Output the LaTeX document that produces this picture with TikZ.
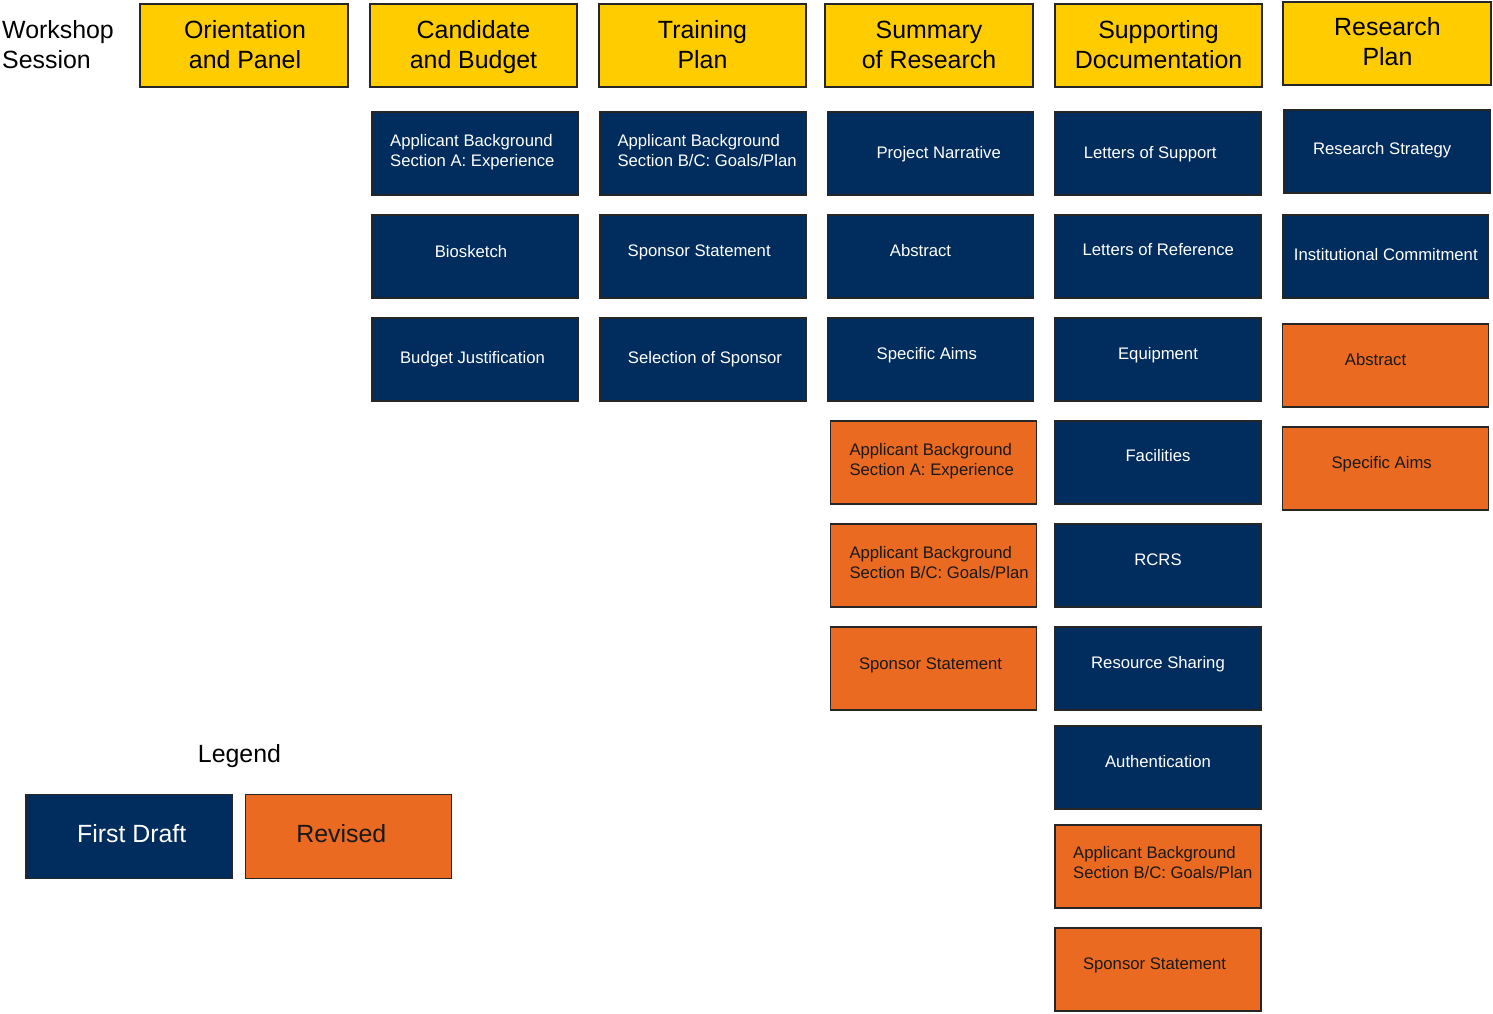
\documentclass[tikz,border=0pt]{standalone}
\usepackage{fontspec}
\setmainfont{Liberation Sans}
\definecolor{navy}{HTML}{012D5E}
\definecolor{orng}{HTML}{EA6A22}
\definecolor{yell}{HTML}{FFCC00}
\begin{document}
\begin{tikzpicture}[x=1pt,y=-1pt,
  basebox/.style={draw=black!85, line width=1.5pt, minimum width=206pt, minimum height=83pt, inner sep=0pt},
  hdr/.style={basebox, fill=yell, minimum width=208pt},
  draft/.style={basebox, fill=navy},
  revised/.style={basebox, fill=orng},
  smalltxt/.style={font=\fontsize{16.7}{20}\selectfont, inner sep=0pt, anchor=base},
  bigtxt/.style={font=\fontsize{24.9}{30}\selectfont, inner sep=0pt, anchor=base},
  wt/.style={smalltxt, text=white},
  bt/.style={smalltxt, text=black!90},
  wt2/.style={wt, anchor=base west, align=left},
  bt2/.style={bt, anchor=base west, align=left},
  ht/.style={bigtxt, align=center, text=black},
]
\useasboundingbox (0,0) rectangle (1493,1013);

% header row (base anchor = baseline of the last line)
\node[bigtxt, anchor=base west, align=left] (ws) at (2,68.5) {Workshop\\Session};
\node[hdr] (h1) at (244,45.5) {};
\node[ht] (h1t) at (245,68.5) {Orientation\\and Panel};
\node[hdr, minimum width=207pt] (h2) at (473.5,45.5) {};
\node[ht] (h2t) at (473.5,68.5) {Candidate\\and Budget};
\node[hdr, minimum width=207pt] (h3) at (702.5,45.5) {};
\node[ht] (h3t) at (702.5,68.5) {Training\\Plan};
\node[hdr] (h4) at (929,45.5) {};
\node[ht] (h4t) at (929,68.5) {Summary\\of Research};
\node[hdr, minimum width=207pt] (h5) at (1158.5,45.5) {};
\node[ht] (h5t) at (1158.5,68.5) {Supporting\\Documentation};
\node[hdr] (h6) at (1387,43.5) {};
\node[ht] (h6t) at (1387.5,65.5) {Research\\Plan};

% column: Candidate and Budget
\node[draft] (c2a) at (475,153.5) {};
\node[wt2] at (390,166.5) {Applicant Background\\Section A: Experience};
\node[draft] (c2b) at (475,256.5) {};
\node[wt] at (471,257.3) {Biosketch};
\node[draft] (c2c) at (475,359.5) {};
\node[wt] at (472.5,363) {Budget Justification};

% column: Training Plan
\node[draft] (c3a) at (703,153.5) {};
\node[wt2] at (617.3,166.5) {Applicant Background\\Section B/C: Goals/Plan};
\node[draft] (c3b) at (703,256.5) {};
\node[wt] at (699.2,256.6) {Sponsor Statement};
\node[draft] (c3c) at (703,359.5) {};
\node[wt] at (705,363) {Selection of Sponsor};

% column: Summary of Research
\node[draft] (c4a) at (930.5,153.5) {};
\node[wt] at (938.7,158.2) {Project Narrative};
\node[draft] (c4b) at (930.5,256.5) {};
\node[wt] at (920.5,256.9) {Abstract};
\node[draft] (c4c) at (930.5,359.5) {};
\node[wt] at (926.8,359.9) {Specific Aims};
\node[revised] (c4d) at (933.5,462.5) {};
\node[bt2] at (849.3,475.5) {Applicant Background\\Section A: Experience};
\node[revised] (c4e) at (933.5,565.5) {};
\node[bt2] at (849.3,578.5) {Applicant Background\\Section B/C: Goals/Plan};
\node[revised] (c4f) at (933.5,668.5) {};
\node[bt] at (930.5,669.3) {Sponsor Statement};

% column: Supporting Documentation
\node[draft] (c5a) at (1158,153.5) {};
\node[wt] at (1150.2,158.4) {Letters of Support};
\node[draft] (c5b) at (1158,256.5) {};
\node[wt] at (1158.3,255.8) {Letters of Reference};
\node[draft] (c5c) at (1158,359.5) {};
\node[wt] at (1158,359.2) {Equipment};
\node[draft] (c5d) at (1158,462.5) {};
\node[wt] at (1158,461.8) {Facilities};
\node[draft] (c5e) at (1158,565.5) {};
\node[wt] at (1158,565.5) {RCRS};
\node[draft] (c5f) at (1158,668.5) {};
\node[wt] at (1158,668.5) {Resource Sharing};
\node[draft] (c5g) at (1158,767.5) {};
\node[wt] at (1158,767.8) {Authentication};
\node[revised] (c5h) at (1158,866.5) {};
\node[bt2] at (1073,878.7) {Applicant Background\\Section B/C: Goals/Plan};
\node[revised] (c5i) at (1158,969.5) {};
\node[bt] at (1154.5,969.5) {Sponsor Statement};

% column: Research Plan
\node[draft] (c6a) at (1387,151.5) {};
\node[wt] at (1382.2,154.3) {Research Strategy};
\node[draft] (c6b) at (1385.5,256.5) {};
\node[wt] at (1385.8,260) {Institutional Commitment};
\node[revised] (c6c) at (1385.5,365.5) {};
\node[bt] at (1375.5,365) {Abstract};
\node[revised] (c6d) at (1385.5,468.5) {};
\node[bt] at (1381.7,468) {Specific Aims};

% legend
\node[bigtxt] (leg) at (239.5,762.3) {Legend};
\node[draft, minimum height=84pt] (lg1) at (129,836.7) {};
\node[bigtxt, text=white] at (131.7,842.7) {First Draft};
\node[revised, minimum height=84pt] (lg2) at (348.7,836.7) {};
\node[bigtxt, text=black!90] at (341.3,842.7) {Revised};
\end{tikzpicture}
\end{document}
